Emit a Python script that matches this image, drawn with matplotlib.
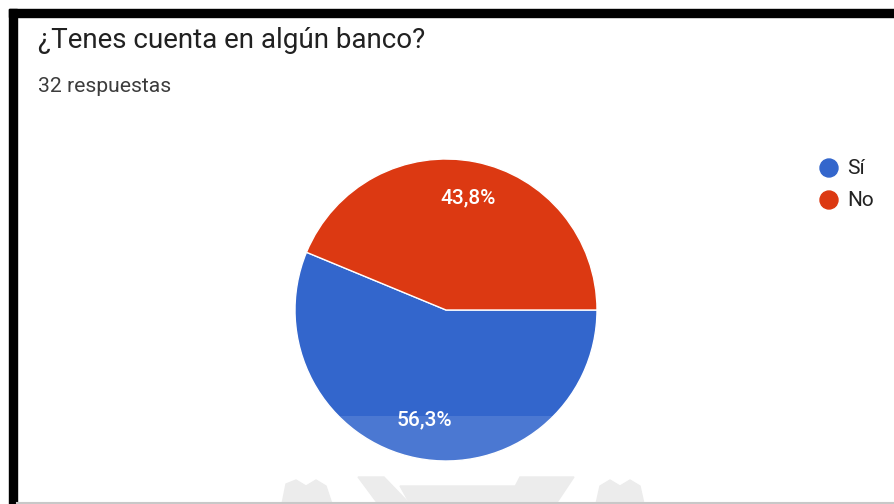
import matplotlib.pyplot as plt
from matplotlib.patches import Rectangle, Polygon, Circle

title = "¿Tenes cuenta en algún banco?"
subtitle = "32 respuestas"
labels = ["Sí", "No"]
pcts = [56.3, 43.8]
colors = ["#3366cc", "#dc3912"]

W, H = 895, 504
fig = plt.figure(figsize=(W / 100, H / 100), dpi=100)
plt.rcParams['font.family'] = ['Roboto', 'DejaVu Sans']

# background layer in pixel coords (y down)
bg = fig.add_axes([0, 0, 1, 1])
bg.set_xlim(0, W)
bg.set_ylim(H, 0)
bg.axis('off')

# frame
bg.add_patch(Rectangle((9, 9), W - 9, 8, color='black'))
bg.add_patch(Rectangle((9, 9), 8, H - 9, color='black'))
bg.plot([17, W], [502.5, 502.5], color='#c8c8c8', lw=1.5)

bg.text(38, 41, title, fontsize=20, color='#212121', va='center', ha='left')
bg.text(38, 87, subtitle, fontsize=15.2, color='#3c3c3c', va='center', ha='left')

# legend
for i, (lab, c) in enumerate(zip(labels, colors)):
    y = 168 + 32 * i
    bg.add_patch(Circle((829, y), 9, color=c))
    bg.text(847, y, lab, fontsize=15, color='#222222', va='center', ha='left')

# faint logo at the bottom
wm = '#ececec'
bg.add_patch(Polygon([(282, 504), (286, 484), (296, 480), (306, 486), (316, 480),
                      (326, 486), (332, 504)], closed=True, color=wm, zorder=1))
bg.add_patch(Polygon([(358, 477), (384, 477), (410, 504), (378, 504)],
                     closed=True, color=wm, zorder=1))
bg.add_patch(Polygon([(400, 486), (520, 486), (512, 504), (410, 504)],
                     closed=True, color=wm, zorder=1))
bg.add_patch(Polygon([(520, 477), (574, 477), (556, 504), (506, 504)],
                     closed=True, color=wm, zorder=1))
bg.add_patch(Polygon([(596, 504), (600, 486), (610, 480), (620, 486), (630, 480),
                      (640, 486), (644, 504)], closed=True, color=wm, zorder=1))

# pie
cx, cy, r = 446, 310, 151
ax = fig.add_axes([(cx - r) / W, (H - cy - r) / H, 2 * r / W, 2 * r / H])
wedges, _ = ax.pie(pcts, colors=colors, startangle=360 * pcts[1] / sum(pcts),
                   counterclock=True, radius=1,
                   wedgeprops=dict(edgecolor='white', linewidth=1))
ax.set_xlim(-1, 1)
ax.set_ylim(-1, 1)
ax.axis('off')

# light band over the lower part of the pie
band_top = (cy - 416) / r
ax.add_patch(Rectangle((-1.05, -1.05), 2.1, band_top + 1.05, color='white',
                       alpha=0.12, zorder=5, lw=0, clip_on=False))

ax.text((424 - cx) / r, (cy - 420) / r, f"{pcts[0]:.1f}".replace('.', ',') + "%",
        color='white', fontsize=15, fontweight='medium', ha='center', va='center', zorder=6)
ax.text((468 - cx) / r, (cy - 198) / r, f"{pcts[1]:.1f}".replace('.', ',') + "%",
        color='white', fontsize=15, fontweight='medium', ha='center', va='center', zorder=6)

fig.savefig('out.png', dpi=100)
